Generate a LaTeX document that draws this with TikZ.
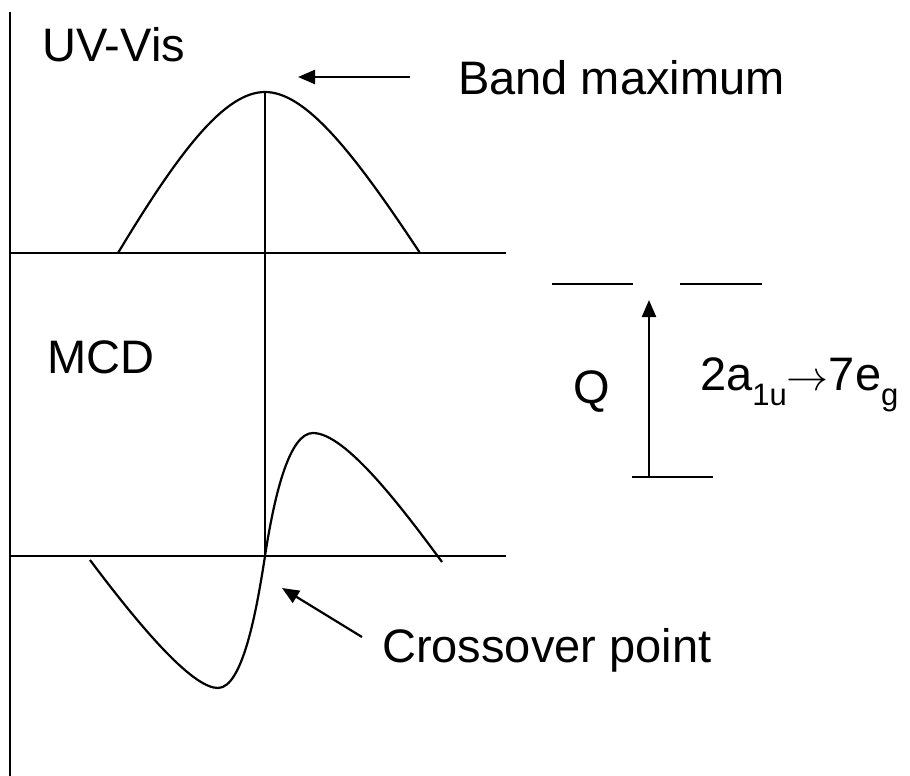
\documentclass[tikz,border=0pt]{standalone}
\usepackage{graphicx}
\usepackage{fontspec}
\setmainfont{Liberation Sans}
\usetikzlibrary{arrows.meta}
\tikzset{
  ln/.style={line width=2.2pt, line cap=butt},
  crv/.style={line width=2.2pt},
  arr/.style={line width=2.2pt, -{Triangle[length=17pt,width=14pt]}},
  lbl/.style={anchor=base west, inner sep=0pt, font=\fontsize{47}{56}\selectfont},
}
\newcommand{\mysub}[1]{\raisebox{-0.32em}{\fontsize{31}{36}\selectfont #1}}
\begin{document}
\begin{tikzpicture}[x=1pt,y=-1pt]
\useasboundingbox (0,0) rectangle (910,776);
% axes
\coordinate (axT) at (10,12);
\coordinate (axB) at (10,776);
\draw[ln] (axT) -- (axB);
\coordinate (h1L) at (10,253);
\coordinate (h1R) at (506,253);
\draw[ln] (h1L) -- (h1R);
\coordinate (h2L) at (10,556);
\coordinate (h2R) at (506,556);
\draw[ln] (h2L) -- (h2R);
\coordinate (vT) at (265,92);
\coordinate (vB) at (265,556);
\draw[ln] (vT) -- (vB);
% UV-Vis band
\draw[crv] (118,253) .. controls (180,150) and (225,92) .. (265,92)
                     .. controls (305,92) and (352,150) .. (420,253);
% MCD band
\draw[crv] (90,560) .. controls (150,640) and (195,688) .. (218,688)
                    .. controls (243,688) and (257,608) .. (265,556)
                    .. controls (275,491) and (290,433) .. (313,433)
                    .. controls (345,433) and (400,505) .. (442,562);
% labels
\node[lbl] (uv) at (42,62) {UV-Vis};
\node[lbl] (mcd) at (47,373) {MCD};
\node[lbl] (band) at (458,95) {Band maximum};
\node[lbl] (cross) at (382,662) {Crossover point};
% arrows to features
\coordinate (bTail) at (410,77);
\coordinate (bTip) at (298,77);
\draw[arr] (bTail) -- (bTip);
\coordinate (cTail) at (362,637);
\coordinate (cTip) at (282,588);
\draw[arr] (cTail) -- (cTip);
% energy levels
\coordinate (e1L) at (552,284);
\coordinate (e1R) at (633,284);
\coordinate (e2L) at (680,284);
\coordinate (e2R) at (762,284);
\coordinate (e0L) at (632,477);
\coordinate (e0R) at (713,477);
\draw[ln] (e1L) -- (e1R);
\draw[ln] (e2L) -- (e2R);
\draw[ln] (e0L) -- (e0R);
\coordinate (qBot) at (649,477);
\coordinate (qTop) at (649,300);
\draw[arr] (qBot) -- (qTop);
\node[lbl] (q) at (573,403) {Q};
\node[lbl] (trans) at (700,390) {2a\mysub{1u}{\fontsize{10}{12}\selectfont\scalebox{4.2}{$\rightarrow$}}7e\mysub{g}};
\end{tikzpicture}
\end{document}
